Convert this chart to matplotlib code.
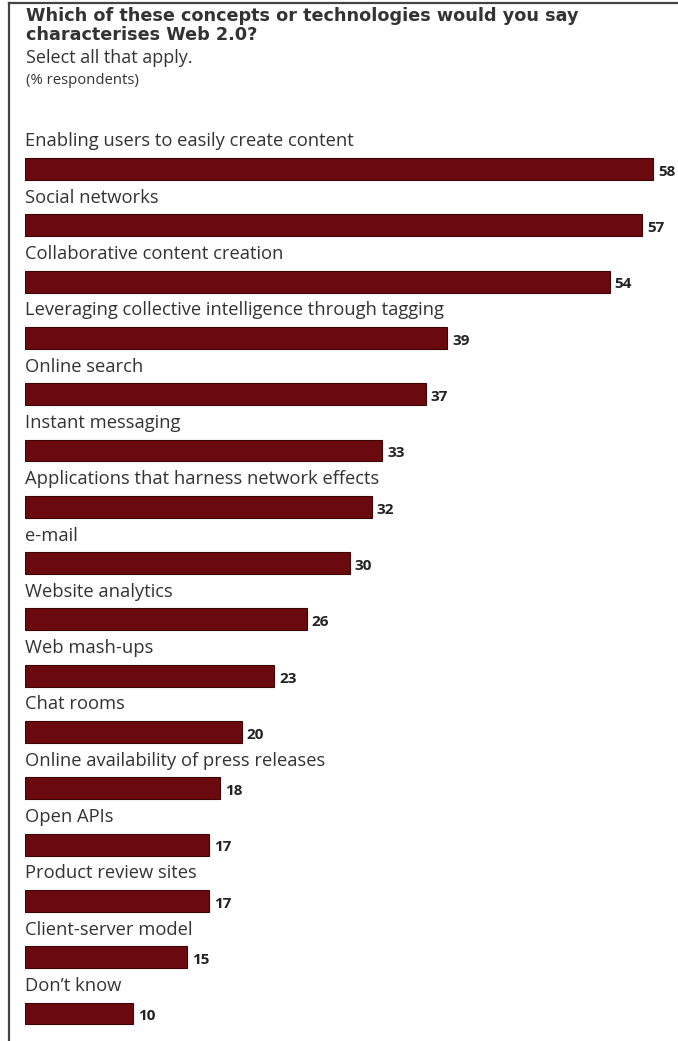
import matplotlib

matplotlib.use("Agg")
import matplotlib.pyplot as plt
from matplotlib.lines import Line2D

plt.rcParams["font.family"] = ["Open Sans", "DejaVu Sans"]

BAR = "#6a0a0e"
EDGE = "#3d0507"
TXT = "#333333"

categories = [
    "Enabling users to easily create content",
    "Social networks",
    "Collaborative content creation",
    "Leveraging collective intelligence through tagging",
    "Online search",
    "Instant messaging",
    "Applications that harness network effects",
    "e-mail",
    "Website analytics",
    "Web mash-ups",
    "Chat rooms",
    "Online availability of press releases",
    "Open APIs",
    "Product review sites",
    "Client-server model",
    "Don\u2019t know",
]
values = [58, 57, 54, 39, 37, 33, 32, 30, 26, 23, 20, 18, 17, 17, 15, 10]

W, H = 678, 1041
fig = plt.figure(figsize=(W / 100, H / 100), dpi=100)
fig.patch.set_facecolor("white")

# axes: x starts at pixel 25, 10.83 px per unit; y rows every 56.3 px from 169
x0 = 25
ppu = 10.83
ax = fig.add_axes([x0 / W, 0, 1 - x0 / W, 1])
ax.set_xlim(0, (W - x0) / ppu)
ax.set_ylim((H - 169) / 56.3, -169 / 56.3)
ax.axis("off")

ypos = list(range(len(categories)))
ax.barh(ypos, values, height=0.39, color=BAR, edgecolor=EDGE, linewidth=0.8)

for y, cat, v in zip(ypos, categories, values):
    ax.text(0, y - 0.49, cat, ha="left", va="center", fontsize=13.2, color=TXT)
    ax.text(v + 0.45, y + 0.05, str(v), ha="left", va="center", fontsize=11,
            fontweight="bold", color="#222222")

# titles (pixel positions)
def ftext(px, py, s, **kw):
    fig.text(px / W, 1 - py / H, s, ha="left", va="center", color=TXT, **kw)

ftext(26, 16, "Which of these concepts or technologies would you say",
      fontsize=12.7, fontweight="bold", family=["DejaVu Sans"])
ftext(26, 35, "characterises Web 2.0?", fontsize=12.7, fontweight="bold",
      family=["DejaVu Sans"])
ftext(26, 58, "Select all that apply.", fontsize=13)
ftext(26, 81, "(% respondents)", fontsize=10.7)

# frame lines: top and left only
fig.add_artist(Line2D([9 / W, 1], [1 - 3 / H, 1 - 3 / H], color="#444444", lw=1.6))
fig.add_artist(Line2D([9 / W, 9 / W], [0, 1 - 3 / H], color="#444444", lw=1.6))

fig.savefig("out.png", dpi=100, facecolor="white")
